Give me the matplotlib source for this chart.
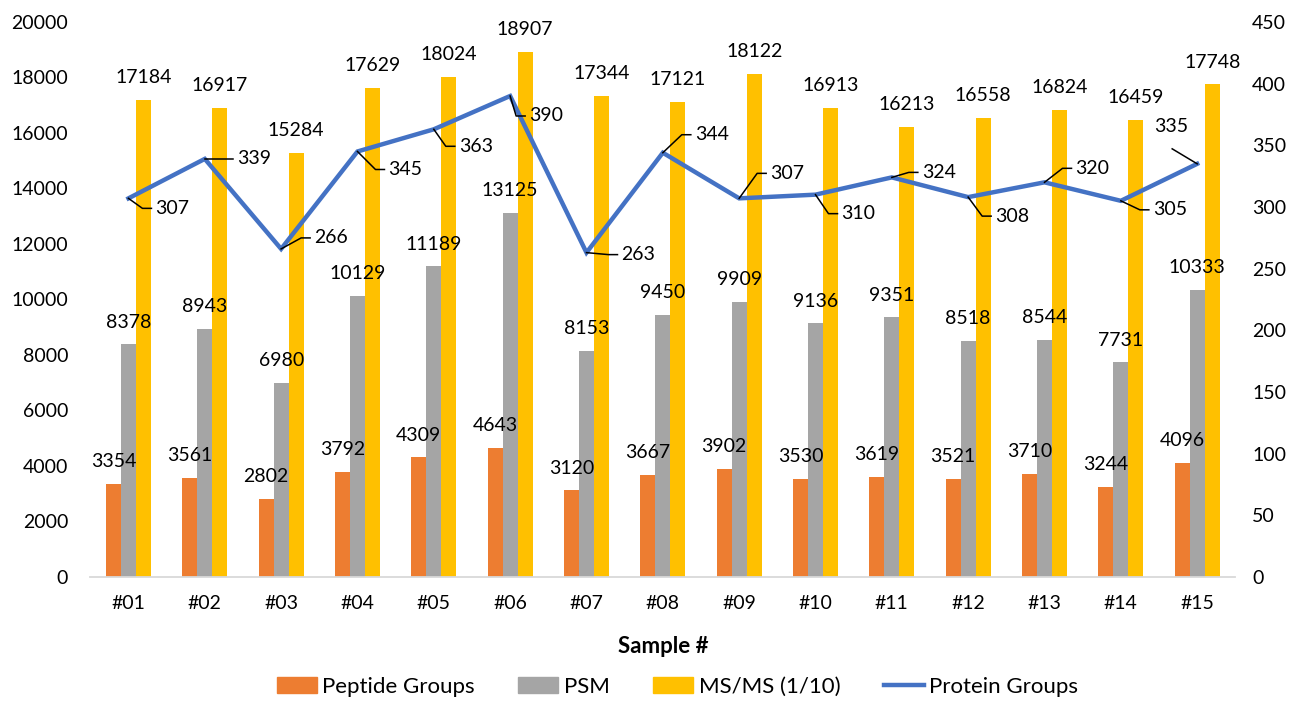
import matplotlib
matplotlib.use("Agg")
import matplotlib.pyplot as plt
from matplotlib.lines import Line2D
from matplotlib.patches import Patch
import numpy as np

plt.rcParams['font.family'] = ['Lato', 'DejaVu Sans']

samples = ["#01", "#02", "#03", "#04", "#05", "#06", "#07", "#08",
           "#09", "#10", "#11", "#12", "#13", "#14", "#15"]
peptide_groups = [3354, 3561, 2802, 3792, 4309, 4643, 3120, 3667,
                  3902, 3530, 3619, 3521, 3710, 3244, 4096]
psm = [8378, 8943, 6980, 10129, 11189, 13125, 8153, 9450,
       9909, 9136, 9351, 8518, 8544, 7731, 10333]
msms_tenth = [17184, 16917, 15284, 17629, 18024, 18907, 17344, 17121,
              18122, 16913, 16213, 16558, 16824, 16459, 17748]
protein_groups = [307, 339, 266, 345, 363, 390, 263, 344,
                  307, 310, 324, 308, 320, 305, 335]

C_ORANGE = "#ED7D31"
C_GRAY = "#A5A5A5"
C_YELLOW = "#FFC000"
C_BLUE = "#4472C4"
FS = 14
FS_BIG = 16

DPI = 100
fig = plt.figure(figsize=(12.99, 7.05), dpi=DPI)
ax = fig.add_axes([0.0695, 0.1816, 0.8815, 0.7872])
ax2 = ax.twinx()

x = np.arange(len(samples))
w = 0.197
series = [(peptide_groups, C_ORANGE, -w), (psm, C_GRAY, 0.0), (msms_tenth, C_YELLOW, w)]
for vals, col, off in series:
    bars = ax.bar(x + off, vals, width=w, color=col, zorder=2)
    for b, v in zip(bars, vals):
        ax.annotate(f"{v}", (b.get_x() + b.get_width() / 2, v),
                    xytext=(0, 10), textcoords="offset points",
                    ha="center", va="bottom", fontsize=FS, color="black")

ax.set_xlim(-0.5, len(samples) - 0.5)
ax.set_ylim(0, 20000)
ax.set_yticks(np.arange(0, 20001, 2000))
ax.set_xticks(x)
ax.set_xticklabels(samples)
ax2.set_ylim(0, 450)
ax2.set_yticks(np.arange(0, 451, 50))

for a in (ax, ax2):
    for s in a.spines.values():
        s.set_visible(False)
ax.spines['bottom'].set_visible(True)
ax.spines['bottom'].set_color("#D9D9D9")
ax.spines['bottom'].set_linewidth(1.3)
ax.tick_params(axis='y', length=0, pad=16, labelsize=FS)
ax.tick_params(axis='x', length=0, pad=13, labelsize=FS)
ax2.tick_params(axis='y', length=0, pad=12, labelsize=FS)

ax2.plot(x, protein_groups, color=C_BLUE, linewidth=3.2, zorder=3,
         solid_joinstyle='miter')

ax.set_xlabel("Sample #", fontsize=FS_BIG, fontweight="bold", labelpad=17)

# Callout placement for the line labels: (dx, dy) of the text's left edge
# from the point, in pixels (y downwards).
callouts = [(27, 10), (32, 0), (33, -11), (31, 18), (25, 17), (19, 20),
            (35, 2), (32, -18), (31, -25), (26, 19), (30, -5), (27, 19),
            (31, -14), (32, 9), (None, None)]

fig.canvas.draw()
W = fig.bbox.width
H = fig.bbox.height
for i, (v, (dx, dy)) in enumerate(zip(protein_groups, callouts)):
    px, py = ax2.transData.transform((x[i], v))
    if dx is None:
        # label sits above-left of the last point
        ex, ey = px - 25, py + 15
        fig.add_artist(Line2D([px, ex], [py, ey], transform=None,
                              color="black", linewidth=1.1, zorder=4))
        fig.text((px - 26) / W, (py + 37) / H, f"{v}",
                 ha="center", va="center", fontsize=FS)
        continue
    tx, ty = px + dx, py - dy
    kx = tx - 13
    ex = tx - 4
    fig.add_artist(Line2D([px, kx, ex], [py, ty, ty], transform=None,
                          color="black", linewidth=1.1, zorder=4))
    fig.text(tx / W, ty / H, f"{v}", ha="left", va="center", fontsize=FS)

handles = [Patch(color=C_ORANGE), Patch(color=C_GRAY), Patch(color=C_YELLOW),
           Line2D([], [], color=C_BLUE, linewidth=3.2)]
labels = ["Peptide Groups", "PSM", "MS/MS (1/10)", "Protein Groups"]
fig.legend(handles, labels, loc="center", bbox_to_anchor=(0.5216, 0.0255),
           ncol=4, frameon=False, fontsize=FS_BIG, handlelength=1.8,
           handleheight=0.7, handletextpad=0.25, columnspacing=1.95)

fig.savefig("out.png", dpi=DPI)
